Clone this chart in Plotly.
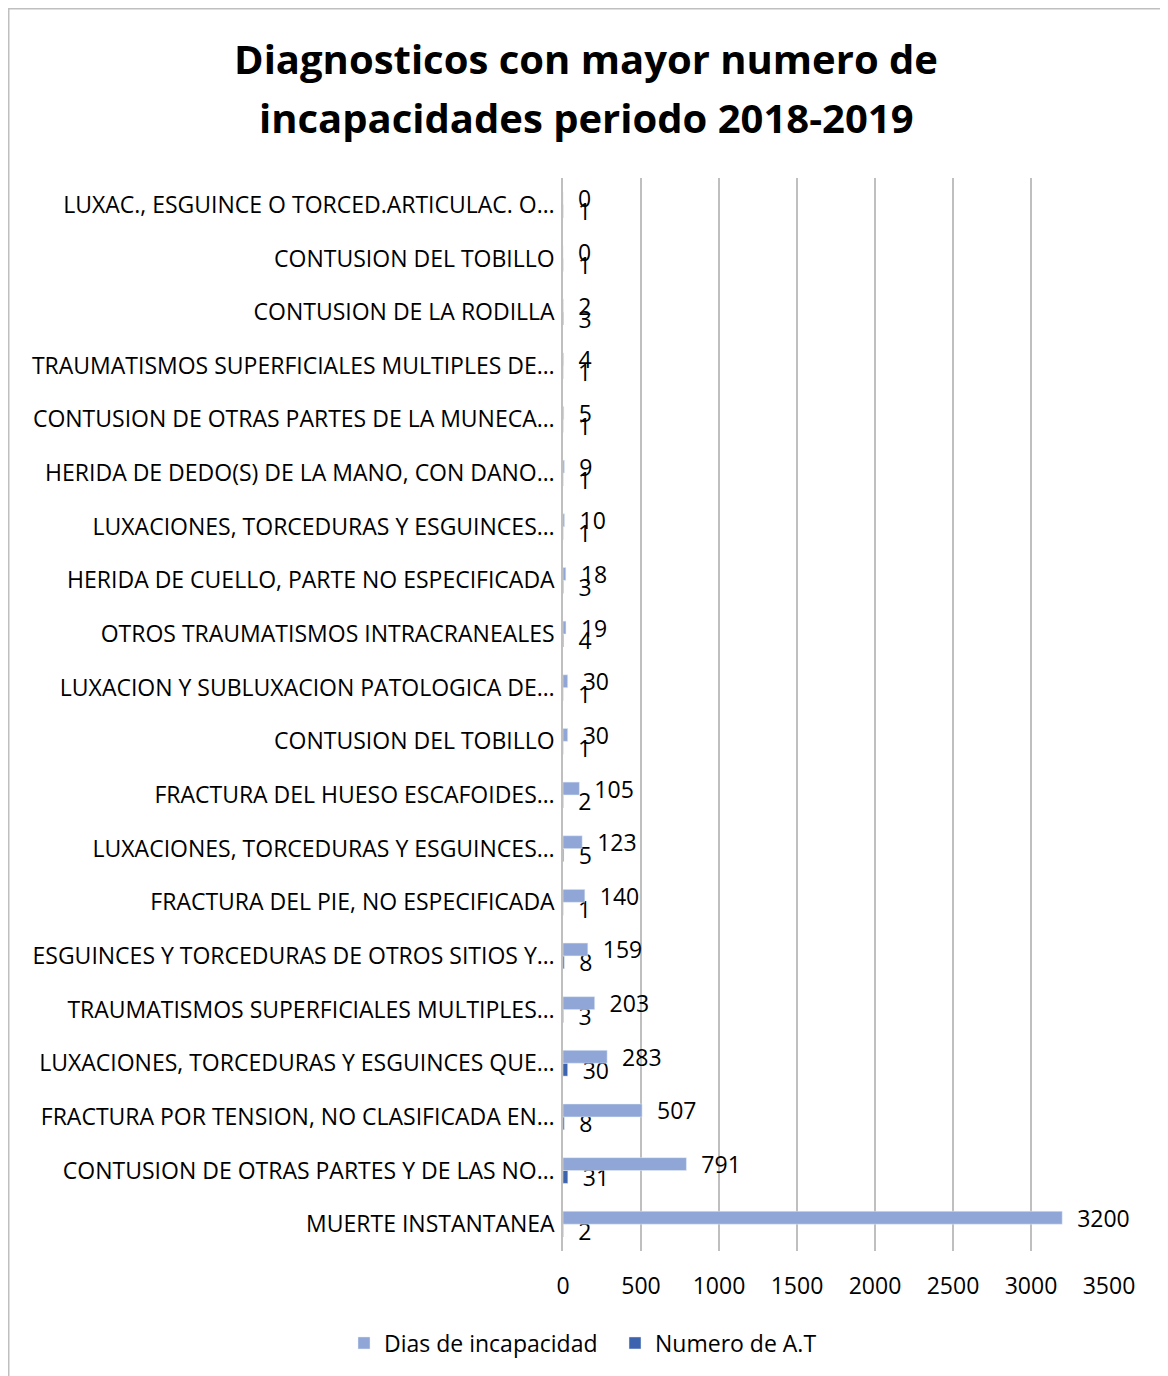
import plotly.graph_objects as go

categories = [
    "MUERTE INSTANTANEA",
    "CONTUSION DE OTRAS PARTES Y DE LAS NO…",
    "FRACTURA POR TENSION, NO CLASIFICADA EN…",
    "LUXACIONES, TORCEDURAS Y ESGUINCES QUE…",
    "TRAUMATISMOS SUPERFICIALES MULTIPLES…",
    "ESGUINCES Y TORCEDURAS DE OTROS SITIOS Y…",
    "FRACTURA DEL PIE, NO ESPECIFICADA",
    "LUXACIONES, TORCEDURAS Y ESGUINCES…",
    "FRACTURA DEL HUESO ESCAFOIDES…",
    "CONTUSION DEL TOBILLO",
    "LUXACION Y SUBLUXACION PATOLOGICA DE…",
    "OTROS TRAUMATISMOS INTRACRANEALES",
    "HERIDA DE CUELLO, PARTE NO ESPECIFICADA",
    "LUXACIONES, TORCEDURAS Y ESGUINCES…",
    "HERIDA DE DEDO(S) DE LA MANO, CON DANO…",
    "CONTUSION DE OTRAS PARTES DE LA MUNECA…",
    "TRAUMATISMOS SUPERFICIALES MULTIPLES DE…",
    "CONTUSION DE LA RODILLA",
    "CONTUSION DEL TOBILLO",
    "LUXAC., ESGUINCE O TORCED.ARTICULAC. O…",
]
dias = [3200, 791, 507, 283, 203, 159, 140, 123, 105, 30, 30, 19, 18, 10, 9, 5, 4, 2, 0, 0]
numero = [2, 31, 8, 30, 3, 8, 1, 5, 2, 1, 1, 4, 3, 1, 1, 1, 1, 3, 1, 1]
x_ticks = [0, 500, 1000, 1500, 2000, 2500, 3000, 3500]
title_lines = ["Diagnosticos con mayor numero de", "incapacidades periodo 2018-2019"]

# make duplicate category labels unique (invisible zero-width suffix)
seen = {}
cats = []
for c in categories:
    n = seen.get(c, 0)
    cats.append(c + "\u200b" * n)
    seen[c] = n + 1

FONT = "'Open Sans', sans-serif"
FS = 23
# page body has an 8px margin, so the figure is 8px smaller than the window
W, H = 1160, 1368
ML, MR, MT, MB = 555, 59, 170, 125

fig = go.Figure()
fig.add_trace(go.Bar(
    name="Numero de A.T", y=cats, x=numero, orientation="h",
    marker=dict(color="#3B63AE"),
    texttemplate="\u00a0\u00a0%{x}", textposition="outside",
    textfont=dict(size=FS, color="#000000", family=FONT),
    constraintext="none", cliponaxis=False, legendrank=2,
))
fig.add_trace(go.Bar(
    name="Dias de incapacidad", y=cats, x=dias, orientation="h",
    marker=dict(color="#8FA6D6"),
    texttemplate="\u00a0\u00a0%{x}", textposition="outside",
    textfont=dict(size=FS, color="#000000", family=FONT),
    constraintext="none", cliponaxis=False, legendrank=1,
))

pw = W - ML - MR
ph = H - MT - MB


def px_x(px):
    return (px - ML) / pw


def px_y(py):
    return (H - MB - py) / ph


fig.add_shape(type="rect", xref="paper", yref="paper",
              x0=px_x(0.75), x1=px_x(1153), y0=px_y(1380), y1=px_y(0.75),
              line=dict(color="#BFBFBF", width=1.5), fillcolor="rgba(0,0,0,0)", layer="below")

fig.add_annotation(
    text="<b>" + title_lines[1] + "</b>", xref="paper", yref="paper",
    x=px_x(578), y=px_y(110), xanchor="center", yanchor="middle",
    showarrow=False, font=dict(size=40, family=FONT, color="#000000"),
)

fig.update_layout(
    width=W, height=H,
    margin=dict(l=ML, r=MR, t=MT, b=MB),
    paper_bgcolor="white", plot_bgcolor="white",
    barmode="group", bargap=0.52, bargroupgap=0,
    font=dict(family=FONT, color="#000000", size=FS),
    title=dict(
        text="<b>" + title_lines[0] + "</b>",
        x=578 / W, xref="container", xanchor="center",
        y=1 - 52 / H, yref="container", yanchor="middle",
        font=dict(size=40, family=FONT, color="#000000"),
    ),
    xaxis=dict(
        range=[0, 3500], tickvals=x_ticks, ticktext=[str(v) for v in x_ticks],
        showgrid=True, gridcolor="#BFBFBF", gridwidth=1.5,
        zeroline=False, showline=False, ticks="",
        tickfont=dict(size=FS, family=FONT, color="#000000"),
        ticklabelstandoff=19, fixedrange=True,
    ),
    yaxis=dict(
        type="category", showgrid=False, zeroline=False,
        showline=True, linecolor="#BFBFBF", linewidth=1.5,
        ticks="", ticklabelstandoff=2,
        tickfont=dict(size=FS, family=FONT, color="#000000"),
    ),
    legend=dict(
        orientation="h", xref="container", yref="container",
        x=336 / W, xanchor="left", y=1 - 1335 / H, yanchor="middle",
        font=dict(size=FS, family=FONT, color="#000000"),
        itemwidth=30, traceorder="normal",
        entrywidth=226, entrywidthmode="pixels",
    ),
    showlegend=True,
)

fig.write_html("out.html")
